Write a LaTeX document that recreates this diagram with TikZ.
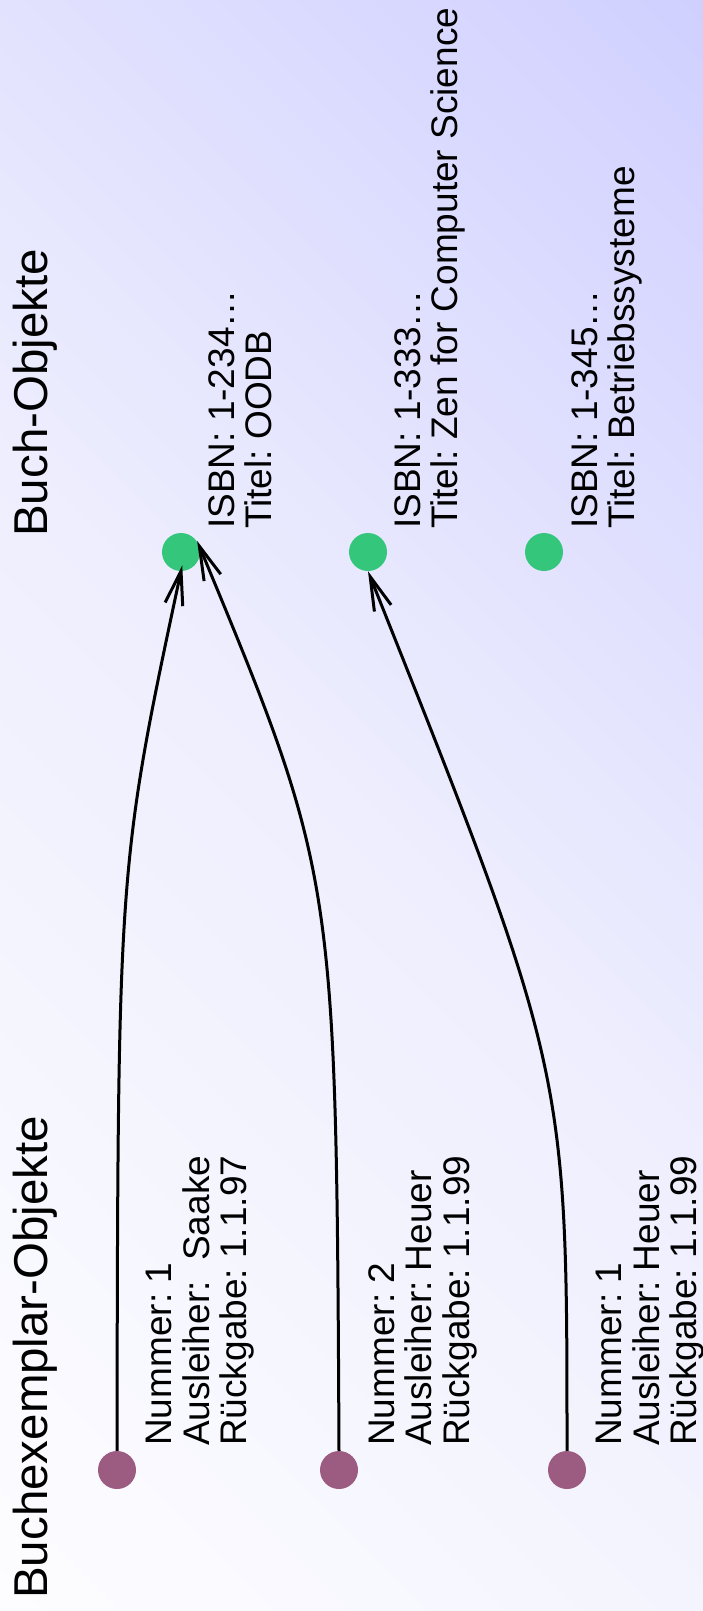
\documentclass[tikz,border=0pt]{standalone}
\usepackage{fontspec}
\setmainfont{Liberation Sans}
\frenchspacing
\definecolor{bookgreen}{RGB}{52, 199, 123}
\definecolor{copyplum}{RGB}{156, 91, 128}
\definecolor{bgtop}{RGB}{208, 208, 255}
\definecolor{bgmid}{RGB}{238, 238, 254}
\definecolor{bglow}{RGB}{253, 253, 255}
\usetikzlibrary{arrows.meta}
\pgfdeclareverticalshading{bgshade}{100bp}{color(0bp)=(bglow); color(14.6bp)=(bglow); color(50bp)=(bgmid); color(85.4bp)=(bgtop); color(100bp)=(bgtop)}

\begin{document}
\begin{tikzpicture}[x=1pt, y=-1pt,
  objdot/.style={circle, minimum size=38pt, inner sep=0pt},
  bookdot/.style={objdot, fill=bookgreen},
  copydot/.style={objdot, fill=copyplum},
  heading/.style={rotate=90, anchor=north west, inner sep=0pt, font=\fontsize{47.5}{50}\selectfont},
  attrs/.style={rotate=90, anchor=north west, inner sep=0pt, align=left, font=\fontsize{37}{37.5}\selectfont},
  ref/.style={line width=3pt, -{Straight Barb[length=34pt, width=18pt]}}]

  % background
  \useasboundingbox (0,0) rectangle (703,1611);
  \shade[shading=bgshade, shading angle=-45] (0,0) rectangle (703,1611);

  % Buch-Objekte
  \node[heading] (bookhead) at (13,537) {Buch-Objekte};
  \node[bookdot] (b1) at (181,552) {};
  \node[bookdot] (b2) at (368,552) {};
  \node[bookdot] (b3) at (544,552) {};
  \node[attrs] (b1txt) at (208,529) {ISBN: 1-234…\\Titel: OODB};
  \node[attrs] (b2txt) at (394,529) {ISBN: 1-333…\\Titel: Zen for Computer Science};
  \node[attrs] (b3txt) at (571,529) {ISBN: 1-345…\\Titel: Betriebssysteme};

  % Buchexemplar-Objekte
  \node[heading] (copyhead) at (13,1599) {Buchexemplar-Objekte};
  \node[copydot] (c1) at (117,1470) {};
  \node[copydot] (c2) at (339,1470) {};
  \node[copydot] (c3) at (567,1470) {};
  \node[attrs] (c1txt) at (146,1446) {Nummer: 1\\Ausleiher:\ \ Saake\\Rückgabe: 1.1.97};
  \node[attrs] (c2txt) at (368,1446) {Nummer: 2\\Ausleiher: Heuer\\Rückgabe: 1.1.99};
  \node[attrs] (c3txt) at (596,1446) {Nummer: 1\\Ausleiher: Heuer\\Rückgabe: 1.1.99};

  % references
  \draw[ref, shorten >=-6pt] (c1.north) .. controls +(1,-585) and +(-63,295) .. (b1.south);
  \draw[ref, shorten >=-5pt] (c2.north) .. controls +(-3,-575) and +(137,330) .. (b1.20);
  \draw[ref] (c3.north) .. controls +(0,-381) and +(199,499) .. (b2.south);
\end{tikzpicture}
\end{document}
